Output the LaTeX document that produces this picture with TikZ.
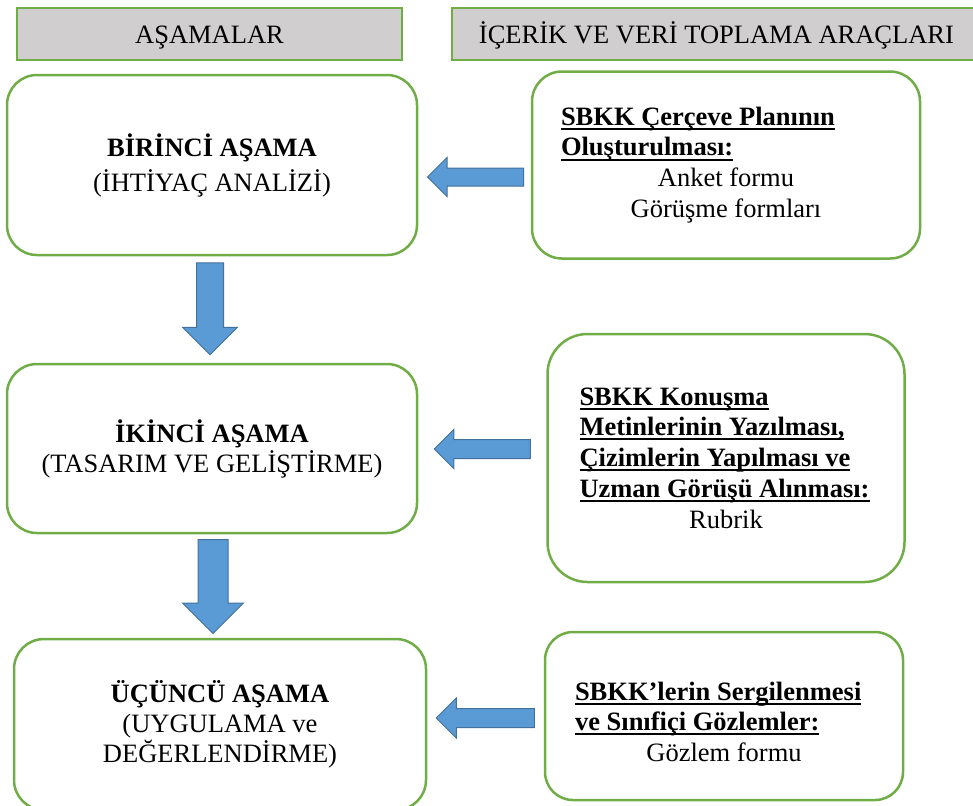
\documentclass[tikz,border=0pt]{standalone}
\usepackage{fontspec}
\setmainfont{Liberation Serif}
\usetikzlibrary{shapes.arrows,positioning}

\definecolor{boxgreen}{RGB}{112,173,71}
\definecolor{headgray}{RGB}{208,206,206}
\definecolor{arrowblue}{RGB}{91,155,213}
\definecolor{arrowedge}{RGB}{65,113,156}

\newsavebox{\ulsave}
\newcommand{\ulbold}[1]{\sbox{\ulsave}{\textbf{#1}}\rlap{\rule[-2.3pt]{\wd\ulsave}{1pt}}\usebox{\ulsave}}
\newcommand{\hdline}[2]{\makebox[#1][l]{\ulbold{#2}}}

\tikzset{
	header/.style={draw=boxgreen, line width=1pt, fill=headgray, minimum width=192.5pt, minimum height=26pt, inner sep=0pt, text height=10pt, text depth=0.2pt},
	stage/.style={draw=boxgreen, line width=1.25pt, rounded corners=15pt, minimum width=205pt, minimum height=90pt, align=center, inner sep=0pt},
	tool/.style={stage, font=\fontsize{13.25pt}{15.4pt}\selectfont},
	blockarrow/.style={single arrow, fill=arrowblue, draw=arrowedge, line width=0.5pt, single arrow tip angle=90},
	leftarrow/.style={blockarrow, shape border rotate=180},
	downarrow/.style={blockarrow, shape border rotate=270}
}

\begin{document}
\begin{tikzpicture}[x=0.5pt, y=-0.5pt, font=\fontsize{13.25pt}{15pt}\selectfont]
		\useasboundingbox (0,0) rectangle (973,805);
		% column headers
		\node (h1) [header] at (209.5,34) {AŞAMALAR};
		\node (h2) [header, right of=h1, node distance=253.5pt, minimum width=264.5pt] {İÇERİK VE VERİ TOPLAMA ARAÇLARI};
		% stages
		\node (c1) [stage] at (212,165) {\textbf{BİRİNCİ AŞAMA}\\[2.5pt](İHTİYAÇ ANALİZİ)};
		\node (c2) [stage, below of=c1, node distance=141.75pt, minimum height=84.5pt] {\textbf{İKİNCİ AŞAMA}\\(TASARIM VE GELİŞTİRME)};
		\node (c3) [stage, below of=c2, node distance=138pt, xshift=4pt, minimum width=206pt, minimum height=85.5pt] {\textbf{ÜÇÜNCÜ AŞAMA}\\(UYGULAMA ve\\DEĞERLENDİRME)};
		% tools
		\node (t1) [tool, right of=c1, node distance=257pt, minimum width=194pt, minimum height=93.5pt] {\hdline{165pt}{SBKK Çerçeve Planının}\\\hdline{165pt}{Oluşturulması:}\\Anket formu\\Görüşme formları};
		\node (t2) [tool, right of=c2, node distance=257pt, yshift=-4.75pt, minimum width=178.5pt, minimum height=124pt, rounded corners=20pt] {\hdline{146.5pt}{SBKK Konuşma}\\\hdline{146.5pt}{Metinlerinin Yazılması,}\\\hdline{146.5pt}{Çizimlerin Yapılması ve}\\\hdline{146.5pt}{Uzman Görüşü Alınması:}\\Rubrik};
		\node (t3) [tool, right of=c3, node distance=252pt, yshift=4.25pt, minimum width=179pt, minimum height=84pt, rounded corners=14pt] {\rule{0pt}{15pt}\hdline{149pt}{SBKK’lerin Sergilenmesi}\\\hdline{149pt}{ve Sınıfiçi Gözlemler:}\\Gözlem formu};
		% block arrows
		\node (l1) [leftarrow, inner sep=4.25pt, single arrow head extend=5.25pt, minimum height=48pt] at (480,177) {};
		\node (l2) [leftarrow, inner sep=4.5pt, single arrow head extend=5pt, minimum height=48pt] at (487,449) {};
		\node (l3) [leftarrow, inner sep=4.5pt, single arrow head extend=5.25pt, minimum height=49pt] at (490,718) {};
		\node (d1) [downarrow, inner sep=6.5pt, single arrow head extend=7pt, minimum height=46pt] at (210,302) {};
		\node (d2) [downarrow, inner sep=7.25pt, single arrow head extend=7.75pt, minimum height=47pt] at (213,579) {};
	\end{tikzpicture}
\end{document}
